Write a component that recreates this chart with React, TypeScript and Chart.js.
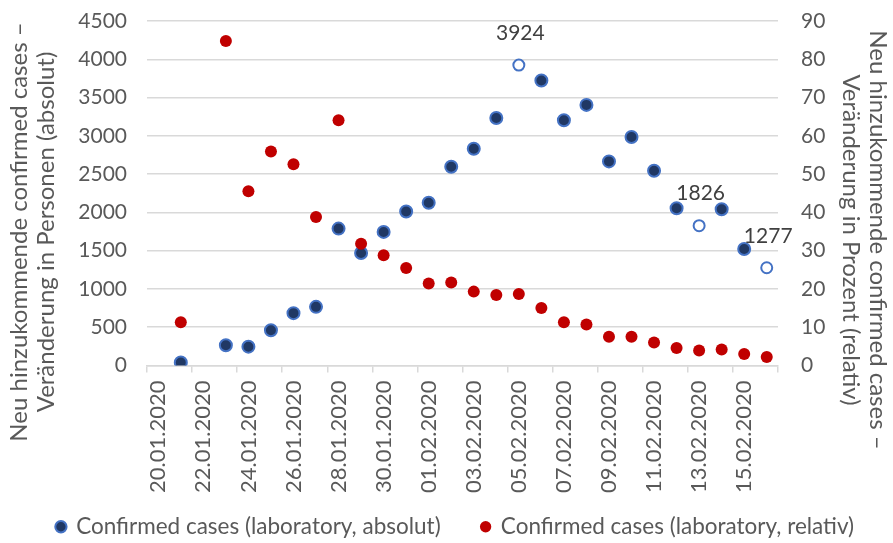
import React, { useEffect, useRef } from 'react';
import { Chart, registerables } from 'chart.js';

Chart.register(...registerables);

// ---------- data ----------
const dates: string[] = [
  '20.01.2020', '21.01.2020', '22.01.2020', '23.01.2020', '24.01.2020', '25.01.2020', '26.01.2020',
  '27.01.2020', '28.01.2020', '29.01.2020', '30.01.2020', '31.01.2020', '01.02.2020', '02.02.2020',
  '03.02.2020', '04.02.2020', '05.02.2020', '06.02.2020', '07.02.2020', '08.02.2020', '09.02.2020',
  '10.02.2020', '11.02.2020', '12.02.2020', '13.02.2020', '14.02.2020', '15.02.2020', '16.02.2020',
];

const absolut: (number | null)[] = [
  null, 40, null, 265, 246, 461, 684, 766, 1788, 1470, 1745, 2011, 2125, 2597,
  2832, 3233, 3924, 3723, 3203, 3404, 2666, 2985, 2544, 2054, 1826, 2041, 1522, 1277,
];

const relativ: (number | null)[] = [
  null, 11.3, null, 84.8, 45.5, 55.9, 52.6, 38.8, 64.1, 31.8, 28.8, 25.5, 21.4, 21.7,
  19.3, 18.4, 18.7, 15.0, 11.3, 10.7, 7.5, 7.5, 6.0, 4.6, 3.9, 4.2, 3.0, 2.2,
];

// points drawn hollow and labelled with their value
const labelledIdx: number[] = [16, 24, 27];

const seriesNames: string[] = [
  'Confirmed cases (laboratory, absolut)',
  'Confirmed cases (laboratory, relativ)',
];

const leftTitle: string[] = ['Neu hinzukommende confirmed cases –', 'Veränderung in Personen (absolut)'];
const rightTitle: string[] = ['Neu hinzukommende confirmed cases –', 'Veränderung in Prozent (relativ)'];

const leftTicks = { min: 0, max: 4500, step: 500 };
const rightTicks = { min: 0, max: 90, step: 10 };

// ---------- style ----------
const FONT = 'Lato';
const GREY_TEXT = '#595959';
const GRID = '#d9d9d9';
const BLUE_FILL = '#203864';
const BLUE_EDGE = '#4472c4';
const RED = '#c00000';

const W = 893;
const H = 548;
const PAD_LEFT = 18;

const axisTitlePlugin = {
  id: 'axisTitlesCustom',
  afterDraw(chart: any) {
    const ctx = chart.ctx as CanvasRenderingContext2D;
    const lineH = 27;
    ctx.save();
    ctx.font = `24px ${FONT}`;
    ctx.fillStyle = GREY_TEXT;
    ctx.textAlign = 'center';
    ctx.textBaseline = 'middle';
    // left title (reads bottom -> top)
    ctx.save();
    ctx.translate(33, 232);
    ctx.rotate(-Math.PI / 2);
    leftTitle.forEach((t, i) => ctx.fillText(t, 0, (i - 0.5) * lineH));
    ctx.restore();
    // right title (reads top -> bottom)
    ctx.save();
    ctx.translate(864, 240);
    ctx.rotate(Math.PI / 2);
    rightTitle.forEach((t, i) => ctx.fillText(t, 0, (i - 0.5) * lineH));
    ctx.restore();
    ctx.restore();
  },
};

const pointLabelPlugin = {
  id: 'pointValueLabels',
  afterDatasetsDraw(chart: any) {
    const ctx = chart.ctx as CanvasRenderingContext2D;
    const meta = chart.getDatasetMeta(0);
    ctx.save();
    ctx.font = `21px ${FONT}`;
    ctx.fillStyle = '#404040';
    ctx.textAlign = 'center';
    ctx.textBaseline = 'middle';
    labelledIdx.forEach((i) => {
      const el = meta.data[i];
      const v = absolut[i];
      if (el && v != null) ctx.fillText(String(v), el.x + 1.5, el.y - 32);
    });
    ctx.restore();
  },
};

export default function App() {
  const ref = useRef<HTMLCanvasElement | null>(null);

  useEffect(() => {
    if (!ref.current) return;
    const isOpen = (i: number) => labelledIdx.includes(i);
    const chart = new Chart(ref.current, {
      type: 'line',
      data: {
        labels: dates,
        datasets: [
          {
            label: seriesNames[0],
            data: absolut,
            yAxisID: 'y',
            showLine: false,
            order: 1,
            pointRadius: (c: any) => (isOpen(c.dataIndex) ? 5.5 : 6),
            pointBorderWidth: 2,
            pointBackgroundColor: (c: any) => (isOpen(c.dataIndex) ? '#ffffff' : BLUE_FILL),
            pointBorderColor: BLUE_EDGE,
            backgroundColor: BLUE_FILL,
            borderColor: BLUE_EDGE,
          },
          {
            label: seriesNames[1],
            data: relativ,
            yAxisID: 'y1',
            showLine: false,
            order: 0,
            pointRadius: 6,
            pointBorderWidth: 0,
            pointBackgroundColor: RED,
            pointBorderColor: RED,
            backgroundColor: RED,
            borderColor: RED,
          },
        ],
      } as any,
      options: {
        animation: false,
        responsive: false,
        devicePixelRatio: 1,
        events: [],
        layout: { padding: { top: 21, left: PAD_LEFT, right: 0, bottom: 0 } },
        plugins: {
          tooltip: { enabled: false },
          legend: {
            position: 'bottom',
            labels: {
              usePointStyle: true,
              pointStyle: 'circle',
              boxWidth: 8,
              boxHeight: 8,
              padding: 10,
              color: GREY_TEXT,
              font: { family: FONT, size: 22.5 },
              sort: (a: any, b: any) => a.datasetIndex - b.datasetIndex,
              generateLabels: (chart: any) => {
                const items = Chart.defaults.plugins.legend.labels.generateLabels(chart);
                return items.map((it: any) =>
                  it.datasetIndex === 0 ? { ...it, text: it.text + '\u2003\u2002\u2009' } : it
                );
              },
            },
          },
        },
        scales: {
          x: {
            type: 'category',
            offset: true,
            grid: {
              offset: true,
              drawOnChartArea: false,
              drawTicks: true,
              tickLength: 7,
              lineWidth: 1.5,
              color: (c: any) =>
                c.index === undefined || c.index % 2 === 0 ? GRID : 'rgba(0,0,0,0)',
            },
            border: { display: true, color: GRID, width: 1.5 },
            ticks: {
              autoSkip: false,
              maxRotation: 90,
              minRotation: 90,
              padding: 8,
              color: GREY_TEXT,
              font: { family: FONT, size: 22 },
              callback: (_v: any, i: number) => (i % 2 === 0 ? dates[i] : ''),
            },
            afterFit: (s: any) => {
              s.height = 140;
            },
          },
          y: {
            position: 'left',
            min: leftTicks.min,
            max: leftTicks.max,
            ticks: {
              stepSize: leftTicks.step,
              padding: 20,
              color: GREY_TEXT,
              font: { family: FONT, size: 21 },
              callback: (v: any) => String(v),
            },
            grid: { color: GRID, lineWidth: 1.5, drawTicks: false },
            border: { display: false },
            afterFit: (s: any) => {
              s.width = 147 - PAD_LEFT;
              s.paddingTop = 0;
              s.paddingBottom = 0;
            },
          },
          y1: {
            position: 'right',
            min: rightTicks.min,
            max: rightTicks.max,
            ticks: {
              stepSize: rightTicks.step,
              padding: 23,
              color: GREY_TEXT,
              font: { family: FONT, size: 21 },
              callback: (v: any) => String(v),
            },
            grid: { drawOnChartArea: false, drawTicks: false },
            border: { display: false },
            afterFit: (s: any) => {
              s.width = 115;
              s.paddingTop = 0;
              s.paddingBottom = 0;
            },
          },
        },
      } as any,
      plugins: [axisTitlePlugin, pointLabelPlugin],
    });
    return () => chart.destroy();
  }, []);

  return (
    <div style={{ position: 'fixed', left: 0, top: 0, width: W, height: H, background: '#ffffff' }}>
      <canvas ref={ref} width={W} height={H} style={{ width: W, height: H, display: 'block' }} />
    </div>
  );
}
